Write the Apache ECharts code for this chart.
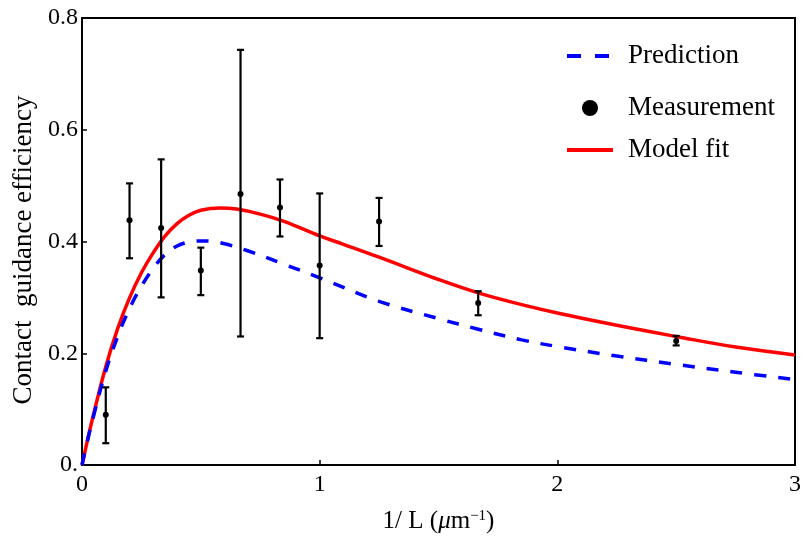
<!DOCTYPE html>
<html><head><meta charset="utf-8">
<script src="https://cdn.jsdelivr.net/npm/echarts/dist/echarts.min.js"></script>
<style>html,body{margin:0;padding:0;background:#fff}#c{width:804px;height:542px}</style>
</head><body><div id="c"></div>
<script>
// Measurement points with error bars
const measX   = [0.1, 0.2, 0.333, 0.5, 0.667, 0.833, 1.0, 1.25, 1.667, 2.5];
const measY   = [0.090, 0.438, 0.424, 0.348, 0.485, 0.461, 0.357, 0.436, 0.290, 0.222];
const errLow  = [0.039, 0.370, 0.300, 0.304, 0.230, 0.409, 0.227, 0.392, 0.268, 0.214];
const errHigh = [0.139, 0.504, 0.547, 0.389, 0.743, 0.511, 0.486, 0.478, 0.311, 0.231];

// Model fit curve
const fitX = [0, 0.025, 0.05, 0.1, 0.15, 0.2, 0.25, 0.3, 0.35, 0.4, 0.45, 0.5, 0.58, 0.65, 0.75, 0.85, 1.0, 1.1, 1.25, 1.5, 1.667, 1.85, 2.0, 2.25, 2.5, 2.75, 3.0];
const fitY = [0, 0.048, 0.093, 0.176, 0.244, 0.299, 0.344, 0.380, 0.410, 0.432, 0.447, 0.456, 0.460, 0.458, 0.449, 0.436, 0.410, 0.395, 0.372, 0.332, 0.308, 0.287, 0.272, 0.250, 0.230, 0.211, 0.197];

// Prediction curve
const predX = [0, 0.025, 0.05, 0.1, 0.15, 0.2, 0.25, 0.3, 0.35, 0.4, 0.45, 0.5, 0.55, 0.6, 0.7, 0.833, 1.0, 1.25, 1.5, 1.667, 1.85, 2.0, 2.25, 2.5, 2.75, 3.0];
const predY = [0, 0.047, 0.090, 0.168, 0.230, 0.280, 0.320, 0.352, 0.377, 0.392, 0.399, 0.401, 0.400, 0.396, 0.383, 0.362, 0.335, 0.293, 0.262, 0.243, 0.224, 0.212, 0.195, 0.180, 0.166, 0.153];

// Tick labels
const xTickLabels = ['0', '1', '2', '3'];
const yTickLabels = ['0.', '0.2', '0.4', '0.6', '0.8'];

const FONT = 'Liberation Serif';
const chart = echarts.init(document.getElementById('c'), null, {renderer: 'canvas'});

const zip = (a, b) => a.map((v, i) => [v, b[i]]);
const legendText = (padLeft) => ({fontFamily: FONT, fontSize: 27, color: '#000', lineHeight: 30, padding: [0, 0, 0, padLeft]});

chart.setOption({
  animation: false,
  backgroundColor: '#fff',
  grid: {left: 82, right: 9, top: 18, bottom: 77, show: true, borderColor: '#000', borderWidth: 2, containLabel: false},
  legend: [
    {data: ['Prediction'], left: 565, top: 41, padding: 0, itemWidth: 43, itemHeight: 14,
     itemStyle: {opacity: 0}, lineStyle: {type: [14, 14], width: 4}, textStyle: legendText(13)},
    {data: [{name: 'Measurement', icon: 'circle'}], left: 582, top: 93, padding: 0, itemWidth: 16, itemHeight: 16,
     itemStyle: {color: '#000', opacity: 1}, textStyle: legendText(25)},
    {data: ['Model fit'], left: 565, top: 135, padding: 0, itemWidth: 46, itemHeight: 14,
     itemStyle: {opacity: 0}, lineStyle: {width: 4}, textStyle: legendText(10)}
  ],
  xAxis: {
    type: 'value', min: 0, max: 3, interval: 1,
    name: '1/ L ({it|μ}m{sup|−1})', nameLocation: 'middle', nameGap: 44,
    nameTextStyle: {fontFamily: FONT, fontSize: 25, color: '#000',
      rich: {it: {fontFamily: FONT, fontSize: 25, fontStyle: 'italic', color: '#000'},
             sup: {fontFamily: FONT, fontSize: 15, color: '#000', verticalAlign: 'top', padding: [0, 0, 10, 0]}}},
    axisLine: {show: true, lineStyle: {color: '#000', width: 2}},
    axisTick: {show: true, inside: true, length: 5, lineStyle: {color: '#000', width: 1.5}},
    axisLabel: {margin: 8, fontFamily: FONT, fontSize: 24, color: '#000', formatter: v => xTickLabels[Math.round(v)]},
    splitLine: {show: false}
  },
  yAxis: {
    type: 'value', min: 0, max: 0.8, interval: 0.2,
    name: 'Contact  guidance efficiency', nameLocation: 'middle', nameGap: 41, nameRotate: 90,
    nameTextStyle: {fontFamily: FONT, fontSize: 27, color: '#000', padding: [0, 17, 0, 0]},
    axisLine: {show: true, lineStyle: {color: '#000', width: 2}},
    axisTick: {show: true, inside: true, length: 5, lineStyle: {color: '#000', width: 1.5}},
    axisLabel: {margin: 4, fontFamily: FONT, fontSize: 24, color: '#000', formatter: v => yTickLabels[Math.round(v / 0.2)]},
    splitLine: {show: false}
  },
  series: [
    {name: 'Model fit', type: 'line', data: zip(fitX, fitY), smooth: 0.4, symbol: 'none', showSymbol: false,
     lineStyle: {color: '#ff0000', width: 3.5}, itemStyle: {color: '#ff0000'}, z: 2},
    {name: 'Prediction', type: 'line', data: zip(predX, predY), smooth: 0.4, symbol: 'none', showSymbol: false,
     lineStyle: {color: '#0000ff', width: 3.5, type: [12, 12]}, itemStyle: {color: '#0000ff'}, z: 3},
    {name: 'errbars', type: 'custom', z: 4,
     data: measX.map((x, i) => [x, errLow[i], errHigh[i]]),
     encode: {x: 0, y: [1, 2]},
     renderItem: function (params, api) {
       const x = api.value(0), lo = api.value(1), hi = api.value(2);
       const pLo = api.coord([x, lo]), pHi = api.coord([x, hi]);
       const cw = 3.5;
       const st = {stroke: '#000', lineWidth: 2.2};
       return {type: 'group', children: [
         {type: 'line', shape: {x1: pLo[0], y1: pLo[1], x2: pHi[0], y2: pHi[1]}, style: st},
         {type: 'line', shape: {x1: pLo[0] - cw, y1: pLo[1], x2: pLo[0] + cw, y2: pLo[1]}, style: st},
         {type: 'line', shape: {x1: pHi[0] - cw, y1: pHi[1], x2: pHi[0] + cw, y2: pHi[1]}, style: st}
       ]};
     }},
    {name: 'Measurement', type: 'scatter', data: zip(measX, measY), symbol: 'circle', symbolSize: 6,
     itemStyle: {color: '#000', opacity: 1}, z: 5}
  ]
});
</script>
</body></html>
